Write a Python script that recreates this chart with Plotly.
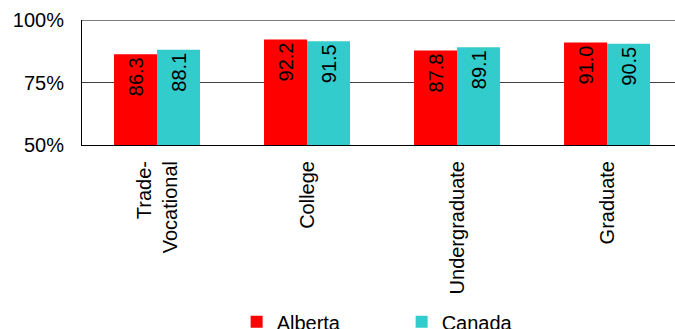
import plotly.graph_objects as go

categories = ["Trade-<br>Vocational", "College", "Undergraduate", "Graduate"]
alberta = [86.3, 92.2, 87.8, 91.0]
canada = [88.1, 91.5, 89.1, 90.5]
y_ticks = [50, 75, 100]
y_tick_labels = ["50%", "75%", "100%"]

FONT = "Arial, Liberation Sans, sans-serif"

fig = go.Figure()
for name, vals, color in [("Alberta", alberta, "#FF0000"), ("Canada", canada, "#33CCCC")]:
    fig.add_trace(go.Bar(
        x=list(range(len(categories))), y=vals, name=name,
        marker=dict(color=color, line=dict(width=0)),
        text=vals, texttemplate="%{y:.1f}", textposition="inside",
        insidetextanchor="end", textangle=-90,
        insidetextfont=dict(family=FONT, size=20, color="black"),
        cliponaxis=False,
    ))

fig.update_layout(
    width=675, height=329,
    margin=dict(l=82, r=0, t=20, b=184),
    paper_bgcolor="white", plot_bgcolor="white",
    barmode="group", bargap=0.4267, bargroupgap=0,
    font=dict(family=FONT, size=20, color="black"),
    showlegend=True,
    legend=dict(orientation="h", x=0.539, xanchor="center", xref="paper",
                y=0.022, yanchor="middle", yref="container",
                bgcolor="rgba(0,0,0,0)",
                font=dict(family=FONT, size=20, color="black"),
                entrywidth=120, entrywidthmode="pixels", itemwidth=30),
    xaxis=dict(
        tickmode="array", tickvals=list(range(len(categories))), ticktext=categories,
        range=[-0.5, 3.453], tickangle=-90, showline=True, linecolor="black", linewidth=1,
        ticks="", showgrid=False, ticklabelstandoff=7, fixedrange=True, automargin=False,
        tickfont=dict(family=FONT, size=20, color="black"),
    ),
    yaxis=dict(
        range=[50, 100], tickmode="array", tickvals=y_ticks, ticktext=y_tick_labels,
        showline=True, linecolor="black", linewidth=1, showgrid=True,
        gridcolor="#404040", gridwidth=1, ticks="", ticklabelstandoff=13,
        zeroline=False, fixedrange=True, automargin=False,
        tickfont=dict(family=FONT, size=20, color="black"),
    ),
    shapes=[dict(type="line", xref="paper", yref="y", x0=0, x1=1, y0=100, y1=100,
                 line=dict(color="black", width=1), layer="above")],
)

fig.write_html("out.html", config={"displayModeBar": False},
               post_script="document.body.style.margin='0';document.body.style.overflow='hidden';")
